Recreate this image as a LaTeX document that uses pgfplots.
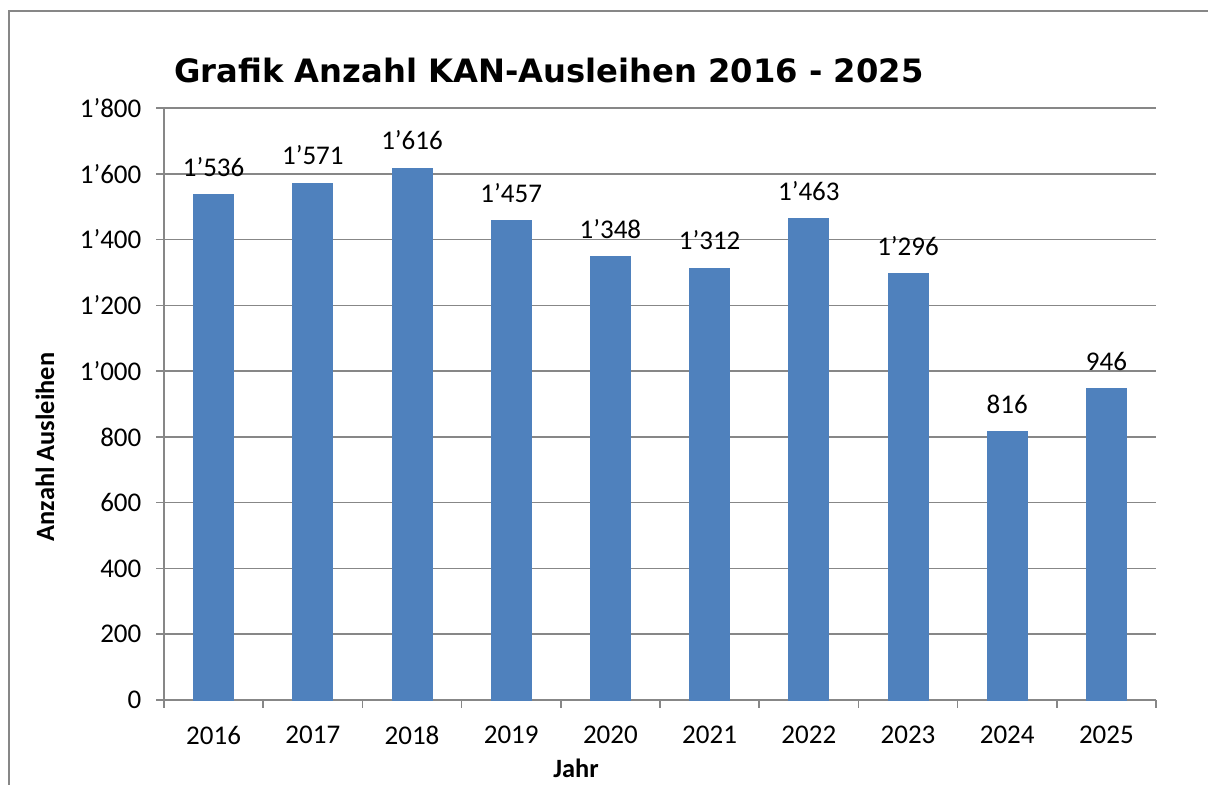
\documentclass[border=0pt]{standalone}
\usepackage{pgfplots}
\pgfplotsset{compat=1.18}
\usepackage{fontspec}
\setmainfont{Carlito}
\newfontfamily\titlefont{DejaVu Sans}
\definecolor{barblue}{HTML}{4F81BD}
\definecolor{gridgray}{HTML}{878787}
\begin{document}
\begin{tikzpicture}[x=1pt,y=1pt]
\useasboundingbox (0pt,0pt) rectangle (604pt,-392pt);
\draw[gridgray, line width=0.8pt] (4.5pt,-400pt) -- (4.5pt,-5.5pt) -- (610pt,-5.5pt);
\begin{axis}[
  at={(82pt,-350pt)}, anchor=south west,
  scale only axis, width=496pt, height=296pt,
  font=\fontsize{13.5}{16}\selectfont,
  xmin=-0.5, xmax=9.5, ymin=0, ymax=1800,
  axis lines*=left,
  axis line style={draw=gridgray, line width=0.8pt, -},
  ymajorgrids, grid style={draw=gridgray, line width=0.8pt},
  tick style={draw=gridgray, line width=0.8pt},
  tick align=outside,
  ytick={0,200,...,1800},
  major tick length=3.8pt,
  xtick={-0.5,0.5,...,9.5},
  xticklabels={},
  extra x ticks={0,...,9},
  extra x tick labels={2016,2017,2018,2019,2020,2021,2022,2023,2024,2025},
  extra x tick style={major tick length=0pt, xticklabel style={yshift=-9.5pt}},
  yticklabel style={xshift=-4pt},
  /pgf/number format/assume math mode=true,
  /pgf/number format/1000 sep={’},
  ybar, bar width=20pt,
  nodes near coords,
  nodes near coords style={anchor=south, inner sep=0pt, yshift=9pt, font=\fontsize{13.5}{16}\selectfont},
  clip=false,
]
\addplot[fill=barblue, draw=barblue] coordinates {
(0,1536) (1,1571) (2,1616) (3,1457) (4,1348) (5,1312) (6,1463) (7,1296) (8,816) (9,946)};
\end{axis}
\node[anchor=base west, font=\titlefont\bfseries\fontsize{16.1}{19}\selectfont, inner sep=0pt] at (87pt,-41pt) {Grafik Anzahl KAN-Ausleihen 2016 - 2025};
\node[rotate=90, font=\bfseries\fontsize{13.2}{16}\selectfont, inner sep=0pt] at (22.5pt,-223.5pt) {Anzahl Ausleihen};
\node[font=\bfseries\fontsize{13.2}{16}\selectfont, inner sep=0pt] at (288pt,-384pt) {Jahr};
\end{tikzpicture}
\end{document}
